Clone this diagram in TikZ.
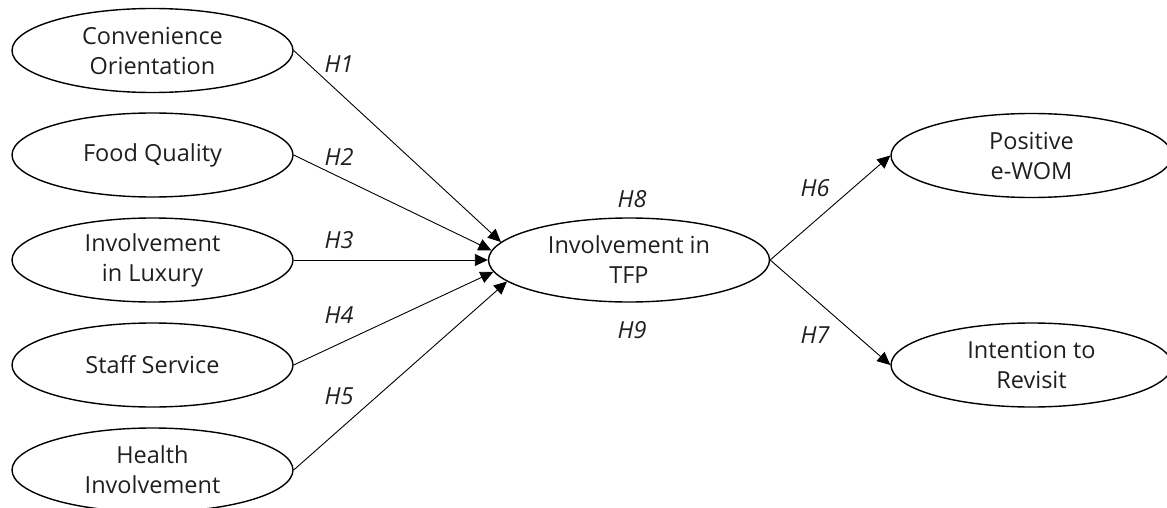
\documentclass[tikz,border=0pt]{standalone}
\usepackage{fontspec}
\setmainfont{Open Sans}
\usetikzlibrary{shapes.geometric,arrows.meta}
\tikzset{
  construct/.style={draw, line width=1.4pt, ellipse, minimum width=281pt, minimum height=84pt,
    inner sep=0pt, align=center, text=black!88, font=\fontsize{23.5}{30}\selectfont},
  path/.style={line width=0.9pt, -{Triangle[length=13pt,width=12pt]}},
  hyp/.style={font=\fontsize{23.5}{30}\selectfont\itshape, text=black!88, inner sep=0pt}
}
\begin{document}
\begin{tikzpicture}[x=1pt,y=-1pt]
\useasboundingbox (0,0) rectangle (1167,508);
% exogenous constructs
\node[construct] (conv) at (152.5,50.5) {Convenience\\Orientation};
\node[construct] (food) at (152.5,155) {Food Quality};
\node[construct] (lux)  at (152.5,260) {Involvement\\in Luxury};
\node[construct] (staff) at (152.5,365) {Staff Service};
\node[construct] (health) at (152.5,470) {Health\\Involvement};
% mediator
\node[construct] (tfp) at (629,260) {Involvement in\\TFP};
% outcomes
\node[construct] (ewom) at (1031.5,155.5) {Positive\\e-WOM};
\node[construct] (revisit) at (1031.5,365) {Intention to\\Revisit};
% hypothesised paths
\draw[path] (conv.east) -- (tfp.172);
\draw[path] (food.east) -- (tfp.176);
\draw[path] (lux.east) -- (tfp.180);
\draw[path] (staff.east) -- (tfp.185);
\draw[path] (health.east) -- (tfp.190);
\draw[path] (tfp.east) -- (ewom.west);
\draw[path] (tfp.east) -- (revisit.west);
% hypothesis labels
\node[hyp] (h1) at (339,64) {H1};
\node[hyp] (h2) at (339,157) {H2};
\node[hyp] (h3) at (339,240) {H3};
\node[hyp] (h4) at (339,315) {H4};
\node[hyp] (h5) at (339,396) {H5};
\node[hyp] (h6) at (815,188) {H6};
\node[hyp] (h7) at (815,335) {H7};
\node[hyp] (h8) at (632,199) {H8};
\node[hyp] (h9) at (632,330) {H9};
\end{tikzpicture}
\end{document}
